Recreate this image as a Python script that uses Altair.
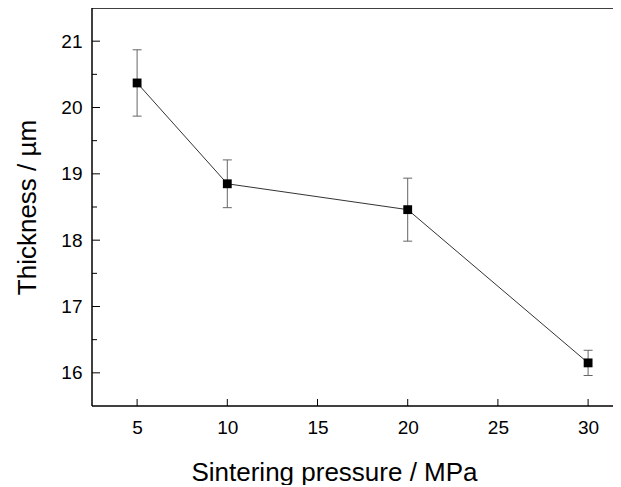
import altair as alt
import pandas as pd

# data
pressure = [5, 10, 20, 30]
thickness = [20.37, 18.85, 18.46, 16.15]
error = [0.50, 0.36, 0.475, 0.19]

x_ticks = [5, 10, 15, 20, 25, 30]
y_ticks = [16, 17, 18, 19, 20, 21]
y_minor = [16.5, 17.5, 18.5, 19.5, 20.5]

W, H = 521, 398
FONT = "Liberation Sans"

df = pd.DataFrame({"p": pressure, "t": thickness, "e": error})
df["lo"] = df["t"] - df["e"]
df["hi"] = df["t"] + df["e"]

xs = alt.Scale(domain=[2.5, 31.38], nice=False, zero=False)
ys = alt.Scale(domain=[15.5, 21.5], nice=False, zero=False)

X_AX = alt.Axis(values=x_ticks, title="Sintering pressure / MPa",
                labelPadding=12, titlePadding=22, titleX=242)
Y_AX = alt.Axis(values=y_ticks, title="Thickness / µm",
                labelPadding=10, titlePadding=20)


def X(f):
    return alt.X(f, scale=xs, axis=X_AX)


def Y(f):
    return alt.Y(f, scale=ys, axis=Y_AX)


base = alt.Chart(df)

line = base.mark_line(color="#333333", strokeWidth=1).encode(x=X("p:Q"), y=Y("t:Q"))

err_rule = base.mark_rule(color="#666666", strokeWidth=1).encode(
    x=X("p:Q"), y=Y("lo:Q"), y2="hi:Q")
cap_lo = base.mark_tick(orient="horizontal", size=9, thickness=1, color="#666666", opacity=1).encode(
    x=X("p:Q"), y=Y("lo:Q"))
cap_hi = base.mark_tick(orient="horizontal", size=9, thickness=1, color="#666666", opacity=1).encode(
    x=X("p:Q"), y=Y("hi:Q"))
squares = base.mark_square(size=78, color="black", opacity=1).encode(
    x=X("p:Q"), y=Y("t:Q"))

ytick_df = pd.DataFrame({"t": y_ticks})
yminor_df = pd.DataFrame({"t": y_minor})
xtick_df = pd.DataFrame({"p": x_ticks})

# inward ticks (the reference draws its ticks inside the frame)
ymaj = alt.Chart(ytick_df).mark_tick(orient="horizontal", size=8, thickness=1,
                                     color="black", opacity=1).encode(
    y=Y("t:Q"), x=alt.value(4))
ymin = alt.Chart(yminor_df).mark_tick(orient="horizontal", size=5, thickness=1,
                                      color="black", opacity=1).encode(
    y=Y("t:Q"), x=alt.value(2.5))
xmaj = alt.Chart(xtick_df).mark_tick(orient="vertical", size=7, thickness=1,
                                     color="black", opacity=1).encode(
    x=X("p:Q"), y=alt.value(H - 3.5))

# frame lines: top, left, bottom (right side is cropped off in the reference)
one = pd.DataFrame({"a": [0]})
frame_top = alt.Chart(one).mark_tick(
    orient="horizontal", size=W, thickness=1.5, color="black", opacity=1).encode(
    x=alt.value(W / 2), y=alt.value(0))
frame_bottom = alt.Chart(one).mark_tick(
    orient="horizontal", size=W, thickness=1.5, color="black", opacity=1).encode(
    x=alt.value(W / 2), y=alt.value(H))
frame_left = alt.Chart(one).mark_tick(
    orient="vertical", size=H, thickness=1.5, color="black", opacity=1).encode(
    x=alt.value(0), y=alt.value(H / 2))

chart = alt.layer(line, err_rule, cap_lo, cap_hi, squares, ymaj, ymin, xmaj,
                  frame_top, frame_bottom, frame_left).properties(
    width=W, height=H,
    autosize=alt.AutoSizeParams(type="none"),
    padding={"left": 84, "top": 0, "right": 0, "bottom": 79},
    background="white",
).configure_view(stroke=None).configure_axis(
    grid=False, ticks=False, tickSize=0, domain=False,
    labelFont=FONT, labelFontSize=19, labelColor="black",
    titleFont=FONT, titleFontSize=26, titleFontWeight="normal", titleColor="black",
)

chart.save("out.html", embed_options={"renderer": "svg", "actions": False})
